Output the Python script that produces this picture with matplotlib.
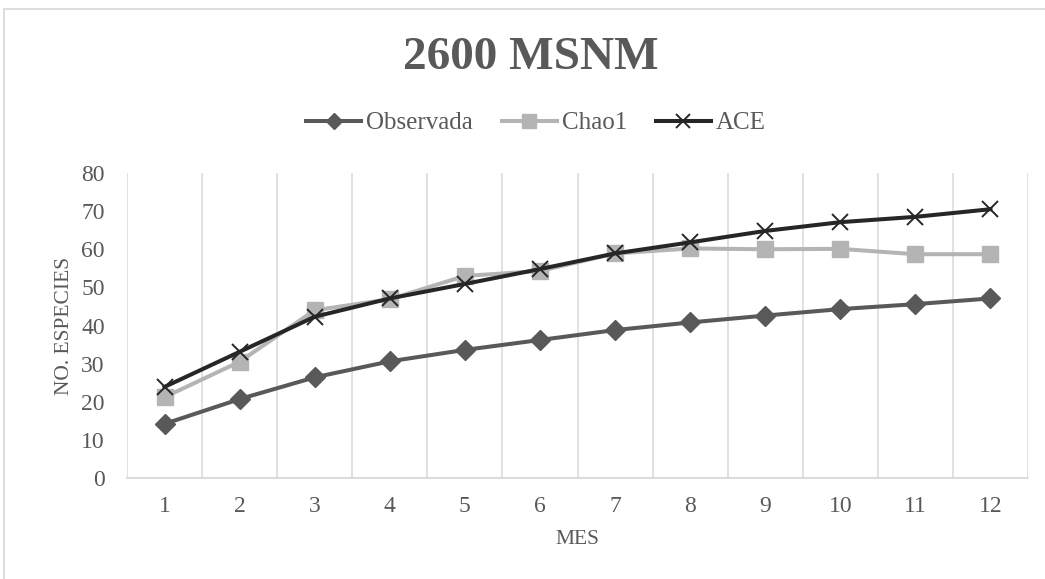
import matplotlib
matplotlib.use("Agg")
import matplotlib.pyplot as plt
from matplotlib.patches import Rectangle

# Accumulated species per month
meses = [1, 2, 3, 4, 5, 6, 7, 8, 9, 10, 11, 12]
observada = [14.2, 20.7, 26.4, 30.6, 33.6, 36.2, 38.8, 40.8, 42.6, 44.3, 45.6, 47.1]
chao1 = [21.2, 30.5, 44.0, 46.9, 53.0, 54.3, 58.9, 60.2, 60.0, 60.1, 58.7, 58.7]
ace = [23.9, 33.1, 42.3, 47.1, 50.9, 54.8, 58.9, 61.8, 64.8, 67.1, 68.5, 70.5]
y_ticks = [0, 10, 20, 30, 40, 50, 60, 70, 80]

TEXT = "#595959"
GRID = "#d9d9d9"
FONT = ["Liberation Serif", "DejaVu Serif"]
plt.rcParams["font.family"] = FONT

W, H = 1045, 579
fig = plt.figure(figsize=(W / 100, H / 100), dpi=100)
fig.patch.set_facecolor("white")

# chart frame (light gray border, top and left visible)
fig.patches.append(Rectangle((4 / W, -0.1), 1.2, 1 - 9 / H + 0.1,
                             transform=fig.transFigure, fill=False,
                             edgecolor=GRID, linewidth=1.3))

ax = fig.add_axes([127 / W, 1 - 478 / H, (1028 - 127) / W, (478 - 173) / H])
ax.set_xlim(0.5, 12.5)
ax.set_ylim(0, 80)

for b in [m + 0.5 for m in [0] + meses]:
    ax.axvline(b, color=GRID, lw=1.1, zorder=0)

for s in ["top", "right", "left"]:
    ax.spines[s].set_visible(False)
ax.spines["bottom"].set_color(GRID)
ax.spines["bottom"].set_linewidth(1.3)

ax.plot(meses, observada, color="#595959", lw=2.9, marker="D", ms=10,
        mec="#595959", mfc="#595959", label="Observada", zorder=3)
ax.plot(meses, chao1, color="#b4b4b4", lw=2.9, marker="s", ms=12,
        mec="#b4b4b4", mfc="#b4b4b4", label="Chao1", zorder=4)
ax.plot(meses, ace, color="#262626", lw=2.9, marker="x", ms=12, mew=1.4,
        mec="#262626", label="ACE", zorder=5)

ax.set_xticks(meses)
ax.set_xticklabels([str(m) for m in meses])
ax.set_yticks(y_ticks)
ax.tick_params(axis="both", length=0, labelsize=17, colors=TEXT)
ax.tick_params(axis="x", pad=13)
ax.tick_params(axis="y", pad=16)

ax.set_xlabel("MES", fontsize=15.5, color=TEXT, labelpad=9)
ax.set_ylabel("NO. ESPECIES", fontsize=15.5, color=TEXT, labelpad=5)

fig.text(0.508, 1 - 58 / H, "2600 MSNM", ha="center", va="center",
         fontsize=34, fontweight="bold", color=TEXT)

leg = fig.legend(loc="center", bbox_to_anchor=(536 / W, 1 - 123 / H),
                 ncol=3, frameon=False, fontsize=18, handlelength=2.2,
                 handletextpad=0.2, columnspacing=1.15, markerscale=0.8)
for t in leg.get_texts():
    t.set_color(TEXT)

fig.savefig("out.png", dpi=100, facecolor="white")
